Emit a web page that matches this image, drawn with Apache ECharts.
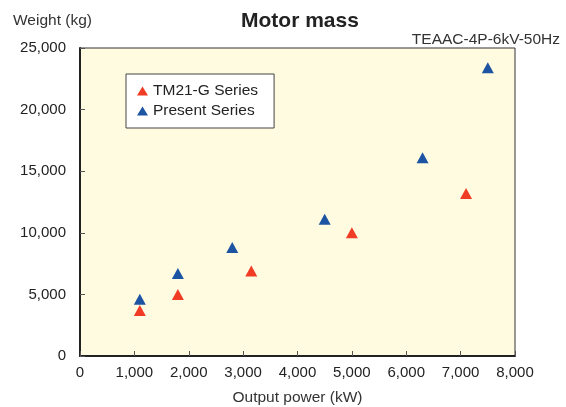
<!DOCTYPE html>
<html><head><meta charset="utf-8">
<script src="https://cdn.jsdelivr.net/npm/echarts@6/dist/echarts.min.js"></script>
<style>html,body{margin:0;padding:0;background:#fff}#c{width:566px;height:407px}</style>
</head><body><div id="c"></div>
<script>
const seriesNames = ['TM21-G Series', 'Present Series'];
const tm21Power = [1100, 1800, 3150, 5000, 7100];
const tm21Weight = [3700, 5000, 6900, 10000, 13200];
const presentPower = [1100, 1800, 2800, 4500, 6300, 7500];
const presentWeight = [4600, 6700, 8800, 11100, 16100, 23400];
const colors = ['#f03c24', '#1c53a3'];

const font = 'Liberation Sans, Arial, Helvetica, sans-serif';
const chart = echarts.init(document.getElementById('c'));
chart.setOption({
  animation: false,
  textStyle: {fontFamily: font},
  title: [
    {text: 'Motor mass', left: 236, top: 6, textStyle: {fontSize: 21, fontWeight: 'bold', color: '#222', fontFamily: font}},
    {text: 'Weight (kg)', left: 8, top: 8, textStyle: {fontSize: 15.5, fontWeight: 'normal', color: '#333', fontFamily: font}},
    {text: 'TEAAC-4P-6kV-50Hz', right: 1, top: 27, textStyle: {fontSize: 15.5, fontWeight: 'normal', color: '#333', fontFamily: font}}
  ],
  legend: {
    left: 126, top: 74, orient: 'vertical', itemGap: 4,
    padding: [9, 16, 9, 11],
    borderColor: '#444', borderWidth: 1, backgroundColor: '#fff',
    itemWidth: 11, itemHeight: 9, itemTextGap: 4,
    textStyle: {fontSize: 15.5, color: '#222', fontFamily: font},
    data: [{name: seriesNames[0], icon: 'triangle'}, {name: seriesNames[1], icon: 'triangle'}]
  },
  grid: {left: 80, right: 51, top: 48, bottom: 51, outerBoundsMode: 'none', containLabel: false,
    show: true, backgroundColor: '#fefbe0', borderColor: '#333', borderWidth: 1},
  xAxis: {
    type: 'value', min: 0, max: 8000, interval: 1000,
    name: 'Output power (kW)', nameLocation: 'middle', nameGap: 34,
    nameTextStyle: {fontSize: 15.5, color: '#333', fontFamily: font},
    axisLine: {lineStyle: {color: '#222', width: 2}},
    axisTick: {inside: true, length: 5, lineStyle: {color: '#555'}},
    axisLabel: {fontSize: 15, color: '#222', margin: 9, formatter: v => v.toLocaleString('en-US')},
    splitLine: {show: false}
  },
  yAxis: {
    type: 'value', min: 0, max: 25000, interval: 5000,
    axisLine: {show: true, lineStyle: {color: '#222', width: 2}},
    axisTick: {show: true, inside: true, length: 5, lineStyle: {color: '#555'}},
    axisLabel: {fontSize: 15, color: '#222', margin: 14, formatter: v => v.toLocaleString('en-US')},
    splitLine: {show: false}
  },
  series: [
    {name: seriesNames[0], type: 'scatter', symbol: 'triangle', symbolSize: [12, 11], itemStyle: {color: colors[0], opacity: 1},
     data: tm21Power.map((p, i) => [p, tm21Weight[i]])},
    {name: seriesNames[1], type: 'scatter', symbol: 'triangle', symbolSize: [12, 11], itemStyle: {color: colors[1], opacity: 1},
     data: presentPower.map((p, i) => [p, presentWeight[i]])}
  ]
});
</script></body></html>
